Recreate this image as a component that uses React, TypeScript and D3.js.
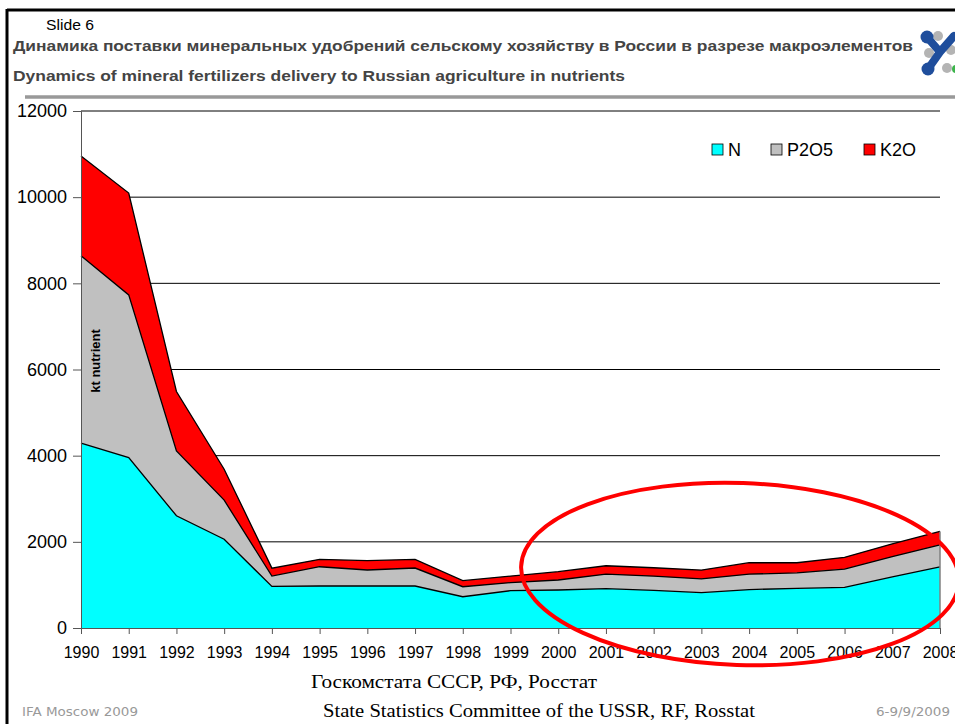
import React, { useRef, useEffect } from 'react';
import * as d3 from 'd3';

// delivery of nutrients, kt
const years = [1990, 1991, 1992, 1993, 1994, 1995, 1996, 1997, 1998, 1999, 2000, 2001, 2002, 2003, 2004, 2005, 2006, 2007, 2008];
const nValues = [4290, 3955, 2605, 2060, 965, 975, 975, 975, 726, 866, 882, 915, 875, 821, 891, 922, 945, 1187, 1421];
const p2o5Values = [4350, 3777, 1507, 907, 240, 447, 371, 417, 232, 186, 232, 335, 328, 319, 359, 359, 422, 469, 509];
const k2oValues = [2314, 2363, 1377, 719, 184, 172, 216, 202, 140, 154, 193, 195, 195, 204, 265, 234, 274, 297, 312];

const seriesKeys = ['N', 'P2O5', 'K2O'];
const seriesColors = ['#00ffff', '#c0c0c0', '#ff0000'];
const yTicks = [0, 2000, 4000, 6000, 8000, 10000, 12000];

const W = 955;
const H = 724;
const chartFont = '"Liberation Sans", Arial, sans-serif';
const narrowFont = '"Liberation Sans Narrow", "Arial Narrow", ' + chartFont;

const Chart = () => {
  const ref = useRef(null);

  useEffect(() => {
    document.body.style.margin = '0';
    const root = d3.select(ref.current);
    root.selectAll('*').remove();
    const svg = root.attr('width', W).attr('height', H);

    svg.append('rect').attr('width', W).attr('height', H).attr('fill', '#fff');

    // slide frame
    svg.append('line').attr('x1', 7).attr('x2', W).attr('y1', 10).attr('y2', 10)
      .attr('stroke', '#000').attr('stroke-width', 3);
    svg.append('line').attr('x1', 7).attr('x2', 7).attr('y1', 9).attr('y2', H)
      .attr('stroke', '#000').attr('stroke-width', 3);
    svg.append('line').attr('x1', 25).attr('x2', W).attr('y1', 97).attr('y2', 97)
      .attr('stroke', '#999').attr('stroke-width', 3.5);

    // header
    svg.append('text').attr('x', 46).attr('y', 30).attr('font-family', narrowFont)
      .attr('font-size', 14).attr('textLength', 48).attr('lengthAdjust', 'spacingAndGlyphs')
      .attr('fill', '#000').text('Slide 6');
    svg.append('text').attr('x', 13).attr('y', 51)
      .attr('font-family', narrowFont)
      .attr('font-size', 15).attr('font-weight', 'bold').attr('fill', '#444')
      .attr('textLength', 900).attr('lengthAdjust', 'spacingAndGlyphs')
      .text('Динамика поставки минеральных удобрений сельскому хозяйству в России в разрезе макроэлементов');
    svg.append('text').attr('x', 13).attr('y', 81)
      .attr('font-family', narrowFont)
      .attr('font-size', 15).attr('font-weight', 'bold').attr('fill', '#444')
      .attr('textLength', 612).attr('lengthAdjust', 'spacingAndGlyphs')
      .text('Dynamics of mineral fertilizers delivery to Russian agriculture in nutrients');

    // logo
    const logo = svg.append('g');
    [[938, 36], [929, 53], [947, 68], [951, 50]].forEach(([cx, cy]) => {
      logo.append('circle').attr('cx', cx).attr('cy', cy).attr('r', 5).attr('fill', '#b4b4b4');
    });
    logo.append('circle').attr('cx', 956).attr('cy', 69).attr('r', 4).attr('fill', '#3cb44b');
    logo.append('path').attr('d', 'M927,37 L940,52 L954,36 M940,52 L928,69')
      .attr('fill', 'none').attr('stroke', '#1f4e9c').attr('stroke-width', 8).attr('stroke-linecap', 'round');
    logo.append('circle').attr('cx', 927).attr('cy', 37).attr('r', 6.5).attr('fill', '#1f4e9c');
    logo.append('circle').attr('cx', 928).attr('cy', 69).attr('r', 6.5).attr('fill', '#1f4e9c');

    // scales
    const x = d3.scaleLinear().domain([1990, 2008]).range([81, 940]);
    const y = d3.scaleLinear().domain([0, 12000]).range([628, 111]);

    const table = years.map((yr, i) => ({ year: yr, N: nValues[i], P2O5: p2o5Values[i], K2O: k2oValues[i] }));
    const stacked = d3.stack().keys(seriesKeys)(table);

    // gridlines
    svg.append('g').selectAll('line').data(yTicks.filter(t => t > 0)).enter().append('line')
      .attr('x1', x(1990)).attr('x2', x(2008))
      .attr('y1', d => y(d)).attr('y2', d => y(d))
      .attr('stroke', '#000').attr('stroke-width', 1);

    const area = d3.area()
      .x(d => x(d.data.year))
      .y0(d => y(d[0]))
      .y1(d => y(d[1]));
    const topLine = d3.line()
      .x(d => x(d.data.year))
      .y(d => y(d[1]));

    svg.append('g').selectAll('path').data(stacked).enter().append('path')
      .attr('d', area).attr('fill', (d, i) => seriesColors[i]);
    svg.append('g').selectAll('path').data(stacked).enter().append('path')
      .attr('d', topLine).attr('fill', 'none').attr('stroke', '#000').attr('stroke-width', 1.3);

    const last = stacked[stacked.length - 1][years.length - 1];
    svg.append('line').attr('x1', x(2008)).attr('x2', x(2008))
      .attr('y1', y(last[1])).attr('y2', y(0))
      .attr('stroke', '#808080').attr('stroke-width', 1.5);

    // axes
    const yAxis = svg.append('g').attr('transform', `translate(${x(1990)},0)`)
      .call(d3.axisLeft(y).tickValues(yTicks).tickSize(8).tickPadding(6).tickFormat(d3.format('d')));
    yAxis.select('.domain').attr('stroke', '#555');
    yAxis.selectAll('.tick line').attr('stroke', '#555');
    yAxis.selectAll('.tick text').attr('font-family', chartFont).attr('font-size', 18).attr('fill', '#000');

    const xAxis = svg.append('g').attr('transform', `translate(0,${y(0)})`)
      .call(d3.axisBottom(x).tickValues(years).tickSize(6).tickPadding(13).tickFormat(d3.format('d')));
    xAxis.select('.domain').attr('stroke', '#555');
    xAxis.selectAll('.tick line').attr('stroke', '#555');
    xAxis.selectAll('.tick text').attr('font-family', chartFont).attr('font-size', 16).attr('fill', '#000');

    svg.append('text').attr('transform', 'translate(100,361) rotate(-90)')
      .attr('text-anchor', 'middle').attr('font-family', chartFont)
      .attr('font-size', 13).attr('font-weight', 'bold').text('kt nutrient');

    // legend
    const legendX = [712, 771, 864];
    const legend = svg.append('g').selectAll('g').data(seriesKeys).enter().append('g')
      .attr('transform', (d, i) => `translate(${legendX[i]},144)`);
    legend.append('rect').attr('width', 11).attr('height', 11)
      .attr('fill', (d, i) => seriesColors[i]).attr('stroke', '#000').attr('stroke-width', 0.8);
    legend.append('text').attr('x', 16).attr('y', 12)
      .attr('font-family', chartFont).attr('font-size', 18).text(d => d);

    // highlight ellipse
    svg.append('ellipse').attr('cx', 740).attr('cy', 574).attr('rx', 219).attr('ry', 91)
      .attr('transform', 'rotate(2 740 574)')
      .attr('fill', 'none').attr('stroke', '#f00').attr('stroke-width', 4);

    // footer
    svg.append('text').attr('x', 311).attr('y', 688)
      .attr('font-family', '"Liberation Serif", "Times New Roman", serif').attr('font-size', 19)
      .attr('textLength', 286).attr('lengthAdjust', 'spacingAndGlyphs')
      .text('Госкомстата СССР, РФ, Росстат');
    svg.append('text').attr('x', 323).attr('y', 717)
      .attr('font-family', '"Liberation Serif", "Times New Roman", serif').attr('font-size', 19)
      .attr('textLength', 432).attr('lengthAdjust', 'spacingAndGlyphs')
      .text('State Statistics Committee of the USSR, RF, Rosstat');
    svg.append('text').attr('x', 22).attr('y', 716)
      .attr('font-family', '"DejaVu Sans", Verdana, sans-serif').attr('font-size', 12.5).attr('fill', '#999')
      .attr('textLength', 116).attr('lengthAdjust', 'spacingAndGlyphs')
      .text('IFA Moscow 2009');
    svg.append('text').attr('x', 876).attr('y', 716)
      .attr('font-family', '"DejaVu Sans", Verdana, sans-serif').attr('font-size', 12.5).attr('fill', '#999')
      .attr('textLength', 74).attr('lengthAdjust', 'spacingAndGlyphs')
      .text('6-9/9/2009');
  }, []);

  return <svg ref={ref} style={{ position: 'absolute', left: 0, top: 0, display: 'block' }}></svg>;
};

export default function App() {
  return <Chart />;
}
